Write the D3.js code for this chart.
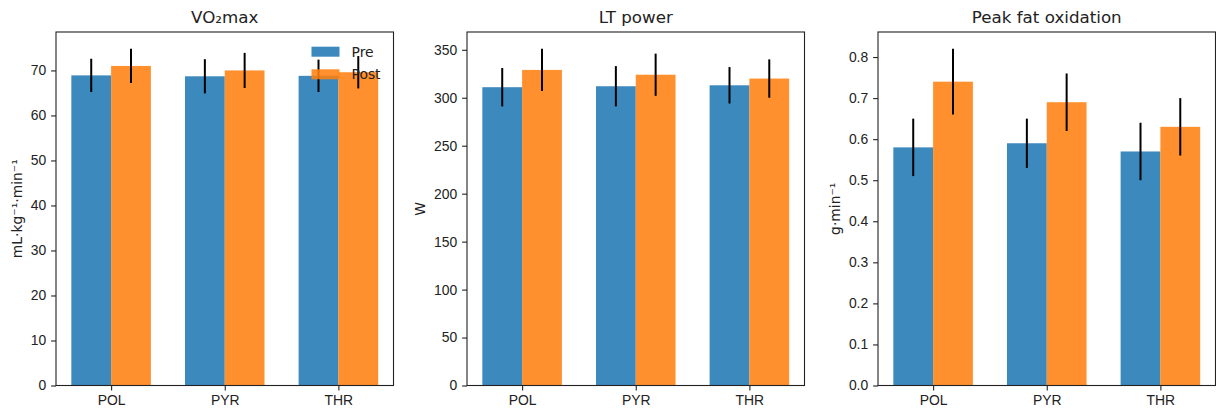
<!DOCTYPE html>
<html>
<head>
<meta charset="utf-8">
<script src="https://cdn.jsdelivr.net/npm/d3@7"></script>
<style>
  body { margin: 0; background: #fff; }
  svg { display: block; font-family: "DejaVu Sans", sans-serif; }
  .axis path, .axis line { stroke: #222; stroke-width: 1.1; }
  .axis text { font-size: 13.9px; fill: #222; }
</style>
</head>
<body>
<script>
let groups = ['POL', 'PYR', 'THR'];
let seriesNames = ['Pre', 'Post'];
let colors = ['#1f77b4', '#ff7f0e'];

let vo2Pre = [68.9, 68.7, 68.8];
let vo2PreErr = [3.7, 3.8, 3.6];
let vo2Post = [71.0, 70.0, 69.6];
let vo2PostErr = [3.8, 3.9, 3.6];

let ltPre = [311, 312, 313];
let ltPreErr = [20, 21, 19];
let ltPost = [329, 324, 320];
let ltPostErr = [22, 22, 20];

let pfoPre = [0.58, 0.59, 0.57];
let pfoPreErr = [0.07, 0.06, 0.07];
let pfoPost = [0.74, 0.69, 0.63];
let pfoPostErr = [0.08, 0.07, 0.07];

let titles = ['VO\u2082max', 'LT power', 'Peak fat oxidation'];
let yLabels = ['mL\u00b7kg\u207b\u00b9\u00b7min\u207b\u00b9', 'W', 'g\u00b7min\u207b\u00b9'];
let yTicks = [
    [0, 10, 20, 30, 40, 50, 60, 70],
    [0, 50, 100, 150, 200, 250, 300, 350],
    [0, 0.1, 0.2, 0.3, 0.4, 0.5, 0.6, 0.7, 0.8]
];
let yFormats = [d3.format('d'), d3.format('d'), d3.format('.1f')];

let panels = [
    { pre: vo2Pre, preErr: vo2PreErr, post: vo2Post, postErr: vo2PostErr },
    { pre: ltPre, preErr: ltPreErr, post: ltPost, postErr: ltPostErr },
    { pre: pfoPre, preErr: pfoPreErr, post: pfoPost, postErr: pfoPostErr }
];

let width = 1216;
let height = 412;
let lefts = [56, 467, 878];
let axW = 337.5;
let axTop = 32;
let axBottom = 385.5;
let barW = 0.35;
let tickLen = 4.9;
let tickPad = 4.9;

let svg = d3.select('body')
            .append('svg')
            .attr('width', width)
            .attr('height', height);

let drawPanel = (p, i) => {
    let left = lefts[i];
    let right = left + axW;
    let g = svg.append('g');

    // matplotlib-like autoscale: 5% margins
    let maxTop = d3.max(p.pre.map((v, j) => v + p.preErr[j]).concat(p.post.map((v, j) => v + p.postErr[j])));
    let span = groups.length - 1 + 2 * barW;
    let x = d3.scaleLinear()
              .domain([-barW - 0.05 * span, groups.length - 1 + barW + 0.05 * span])
              .range([left, right]);
    let y = d3.scaleLinear()
              .domain([0, maxTop * 1.05])
              .range([axBottom, axTop]);

    let rows = [];
    groups.forEach((gname, j) => {
        rows.push({ s: 0, x: j - barW, v: p.pre[j], e: p.preErr[j] });
        rows.push({ s: 1, x: j, v: p.post[j], e: p.postErr[j] });
    });

    g.selectAll('rect.bar')
        .data(rows)
        .enter()
        .append('rect')
        .attr('class', 'bar')
        .attr('x', d => x(d.x))
        .attr('width', d => x(d.x + barW) - x(d.x))
        .attr('y', d => y(d.v))
        .attr('height', d => y(0) - y(d.v))
        .attr('fill', d => colors[d.s])
        .attr('fill-opacity', 0.87);

    g.selectAll('line.err')
        .data(rows)
        .enter()
        .append('line')
        .attr('class', 'err')
        .attr('x1', d => x(d.x + barW / 2))
        .attr('x2', d => x(d.x + barW / 2))
        .attr('y1', d => y(d.v - d.e))
        .attr('y2', d => y(d.v + d.e))
        .attr('stroke', '#000')
        .attr('stroke-width', 2);

    let xAxis = d3.axisBottom(x)
                  .tickValues(d3.range(groups.length))
                  .tickFormat((d) => groups[d])
                  .tickSize(tickLen)
                  .tickSizeOuter(0)
                  .tickPadding(tickPad);
    g.append('g')
        .attr('class', 'axis')
        .attr('transform', 'translate(0,' + axBottom + ')')
        .call(xAxis)
        .call(a => a.select('.domain').remove());

    let yAxis = d3.axisLeft(y)
                  .tickValues(yTicks[i])
                  .tickFormat(yFormats[i])
                  .tickSize(tickLen)
                  .tickSizeOuter(0)
                  .tickPadding(tickPad);
    let ya = g.append('g')
        .attr('class', 'axis')
        .attr('transform', 'translate(' + left + ',0)')
        .call(yAxis);
    ya.select('.domain').remove();

    let maxW = 0;
    ya.selectAll('text').each(function() { maxW = Math.max(maxW, this.getBBox().width); });

    g.append('rect')
        .attr('x', left)
        .attr('y', axTop)
        .attr('width', axW)
        .attr('height', axBottom - axTop)
        .attr('fill', 'none')
        .attr('stroke', '#222')
        .attr('stroke-width', 1.1);

    let lx = left - tickLen - tickPad - maxW - 5.6 - 3.3;
    g.append('text')
        .attr('transform', 'translate(' + lx + ',' + ((axTop + axBottom) / 2) + ') rotate(-90)')
        .attr('text-anchor', 'middle')
        .style('font-size', '13.9px')
        .attr('fill', '#222')
        .text(yLabels[i]);

    g.append('text')
        .attr('x', (left + right) / 2)
        .attr('y', axTop - 9.5)
        .attr('text-anchor', 'middle')
        .style('font-size', '16.7px')
        .attr('fill', '#222')
        .text(titles[i]);

    if (i === 0) {
        let leg = g.append('g').attr('transform', 'translate(' + (right - 82) + ',' + (axTop + 14.7) + ')');
        let items = leg.selectAll('g')
            .data(seriesNames)
            .enter()
            .append('g')
            .attr('transform', (d, k) => 'translate(0,' + (k * 22.6) + ')');
        items.append('rect')
            .attr('width', 28)
            .attr('height', 10)
            .attr('fill', (d, k) => colors[k])
            .attr('fill-opacity', 0.87);
        items.append('text')
            .attr('x', 40)
            .attr('y', 5)
            .attr('dy', '0.35em')
            .style('font-size', '13.9px')
            .attr('fill', '#222')
            .text(d => d);
    }
};

panels.forEach(drawPanel);
</script>
</body>
</html>
